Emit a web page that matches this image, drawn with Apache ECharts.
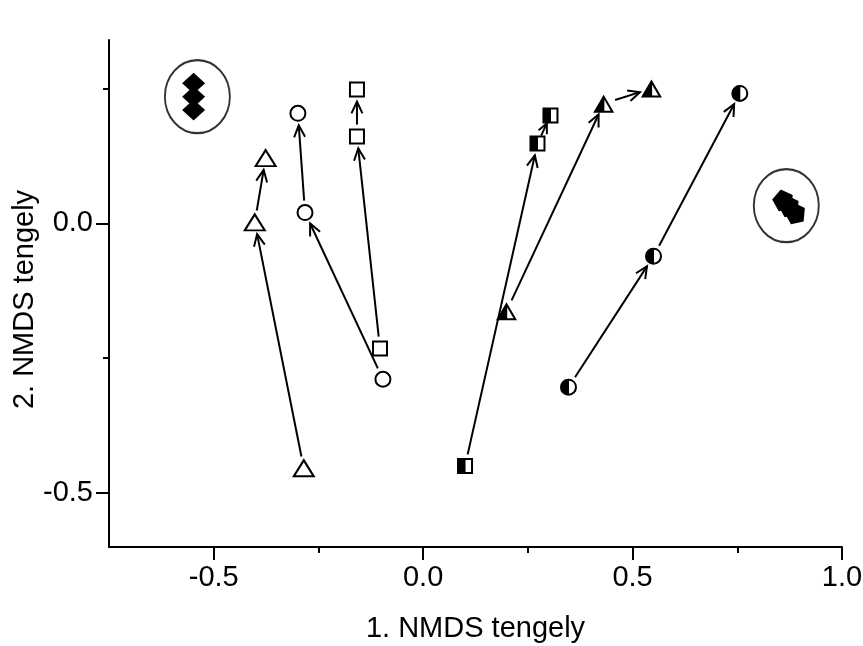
<!DOCTYPE html>
<html>
<head>
<meta charset="utf-8">
<script src="https://cdn.jsdelivr.net/npm/echarts@6.0.0/dist/echarts.min.js"></script>
<style>
  html, body { margin: 0; padding: 0; background: #fff; }
  #chart { width: 863px; height: 646px; }
</style>
</head>
<body>
<div id="chart"></div>
<script>
// three consecutive positions per sample group, arrows follow the order
const openTriangle = [[-0.285, -0.454], [-0.402, 0.002], [-0.376, 0.121]];
const openCircle   = [[-0.096, -0.289], [-0.282, 0.020], [-0.299, 0.204]];
const openSquare   = [[-0.103, -0.232], [-0.158, 0.161], [-0.158, 0.248]];
const halfSquare   = [[0.100, -0.450], [0.273, 0.148], [0.304, 0.200]];
const halfTriangle = [[0.199, -0.163], [0.431, 0.222], [0.545, 0.250]];
const halfCircle   = [[0.347, -0.304], [0.550, -0.061], [0.756, 0.241]];
// reference clusters
const diamonds  = [[-0.548, 0.260], [-0.548, 0.235], [-0.548, 0.210]];
const pentagons = [[0.859, 0.044], [0.873, 0.033], [0.888, 0.020]];
const ellipseCentres = [[-0.539, 0.235], [0.867, 0.033]];

const xMajorTicks = [-0.5, 0.0, 0.5, 1.0];
const xMinorTicks = [-0.25, 0.25, 0.75];
const yMajorTicks = [-0.5, 0.0];
const yMinorTicks = [-0.25, 0.25];

const FONT = '"Liberation Sans", Arial, Helvetica, sans-serif';

// left half filled, right half hollow (hole drawn in reverse direction)
const HALF_SQUARE = 'path://M0 0 L16 0 L16 16 L0 16 Z M8.5 2 L8.5 14 L14 14 L14 2 Z';
const HALF_CIRCLE = 'path://M8.5 0 A8.5 8.5 0 1 1 8.5 17 A8.5 8.5 0 1 1 8.5 0 Z M9 2.02 L9 14.98 A6.5 6.5 0 0 0 9 2.02 Z';
const HALF_TRIANGLE = 'path://M10.5 0 L21 18 L0 18 Z M11.2 5.2 L11.2 16 L17.5 16 Z';
const PENTAGON = 'path://M10 0 L19.51 6.91 L15.88 18.09 L4.12 18.09 L0.49 6.91 Z';

const arrowData = [];
[openTriangle, openCircle, openSquare, halfSquare, halfTriangle, halfCircle].forEach(g => {
  for (let i = 0; i < g.length - 1; i++) arrowData.push([g[i][0], g[i][1], g[i + 1][0], g[i + 1][1]]);
});

function renderArrow(params, api) {
  const a = api.coord([api.value(0), api.value(1)]);
  const b = api.coord([api.value(2), api.value(3)]);
  const dx = b[0] - a[0], dy = b[1] - a[1];
  const len = Math.hypot(dx, dy);
  const ux = dx / len, uy = dy / len;
  const gap = Math.min(12, len * 0.28);
  const s = [a[0] + ux * gap, a[1] + uy * gap];
  const t = [b[0] - ux * gap, b[1] - uy * gap];
  const head = Math.min(13, len * 0.35);
  const ang = 25 * Math.PI / 180;
  const c = Math.cos(ang), sn = Math.sin(ang);
  const bx = -ux, by = -uy;
  const l1 = [t[0] + head * (bx * c - by * sn), t[1] + head * (bx * sn + by * c)];
  const l2 = [t[0] + head * (bx * c + by * sn), t[1] + head * (-bx * sn + by * c)];
  return {
    type: 'group',
    children: [
      { type: 'line', shape: { x1: s[0], y1: s[1], x2: t[0], y2: t[1] },
        style: { stroke: '#000', lineWidth: 2 } },
      { type: 'polyline', shape: { points: [l1, t, l2] },
        style: { stroke: '#000', lineWidth: 2, fill: null } }
    ]
  };
}

function openPoints(data, symbol, size) {
  return {
    type: 'scatter', data, symbol, symbolSize: size, z: 3,
    itemStyle: { color: '#fff', borderColor: '#000', borderWidth: 2, opacity: 1 }
  };
}
function solidPoints(data, symbol, size, rotate) {
  return {
    type: 'scatter', data, symbol, symbolSize: size, symbolRotate: rotate || 0, z: 3,
    itemStyle: { color: '#000', borderWidth: 0, opacity: 1 }
  };
}

const axisLineStyle = { show: true, onZero: false, lineStyle: { color: '#000', width: 2 } };
const labelStyle = { color: '#000', fontSize: 29, fontFamily: FONT };

const chart = echarts.init(document.getElementById('chart'));
chart.setOption({
  animation: false,
  backgroundColor: '#fff',
  grid: { left: 109, right: 21, top: 40, bottom: 99, outerBoundsMode: 'none' },
  xAxis: [
    {
      type: 'value', min: -0.75, max: 1.0, position: 'bottom',
      axisLine: axisLineStyle,
      axisTick: { show: true, customValues: xMinorTicks, length: 6, lineStyle: { color: '#000', width: 2 } },
      axisLabel: { show: false },
      splitLine: { show: false }
    },
    {
      type: 'value', min: -0.75, max: 1.0, position: 'bottom',
      axisLine: { show: false, onZero: false },
      axisTick: { show: true, customValues: xMajorTicks, length: 13, lineStyle: { color: '#000', width: 2 } },
      axisLabel: Object.assign({ customValues: xMajorTicks, margin: 16, formatter: v => v.toFixed(1) }, labelStyle),
      splitLine: { show: false },
      name: '1. NMDS tengely', nameLocation: 'middle', nameGap: 67, nameMoveOverlap: false,
      nameTextStyle: labelStyle
    }
  ],
  yAxis: [
    {
      type: 'value', min: -0.6, max: 0.34, position: 'left',
      axisLine: axisLineStyle,
      axisTick: { show: true, customValues: yMinorTicks, length: 6, lineStyle: { color: '#000', width: 2 } },
      axisLabel: { show: false },
      splitLine: { show: false }
    },
    {
      type: 'value', min: -0.6, max: 0.34, position: 'left',
      axisLine: { show: false, onZero: false },
      axisTick: { show: true, customValues: yMajorTicks, length: 13, lineStyle: { color: '#000', width: 2 } },
      axisLabel: Object.assign({ customValues: yMajorTicks, margin: 16, formatter: v => v.toFixed(1) }, labelStyle),
      splitLine: { show: false },
      name: '2. NMDS tengely', nameLocation: 'middle', nameGap: 70, nameMoveOverlap: false,
      nameTextStyle: Object.assign({ padding: [0, 12, 0, 0] }, labelStyle)
    }
  ],
  series: [
    {
      type: 'custom', data: arrowData, renderItem: renderArrow, clip: false, z: 2,
      encode: { x: [0, 2], y: [1, 3] }
    },
    {
      type: 'scatter', data: ellipseCentres, symbol: 'circle', symbolSize: [65, 73], z: 1,
      itemStyle: { color: 'rgba(0,0,0,0)', borderColor: '#000', borderWidth: 2 }
    },
    openPoints(openTriangle, 'triangle', [20, 16]),
    openPoints(openCircle, 'circle', 15),
    openPoints(openSquare, 'rect', 14),
    solidPoints(halfSquare, HALF_SQUARE, 16),
    solidPoints(halfTriangle, HALF_TRIANGLE, [21, 18]),
    solidPoints(halfCircle, HALF_CIRCLE, 17),
    solidPoints(diamonds, 'diamond', [23, 21]),
    solidPoints(pentagons, PENTAGON, 21, 12)
  ]
});
</script>
</body>
</html>
